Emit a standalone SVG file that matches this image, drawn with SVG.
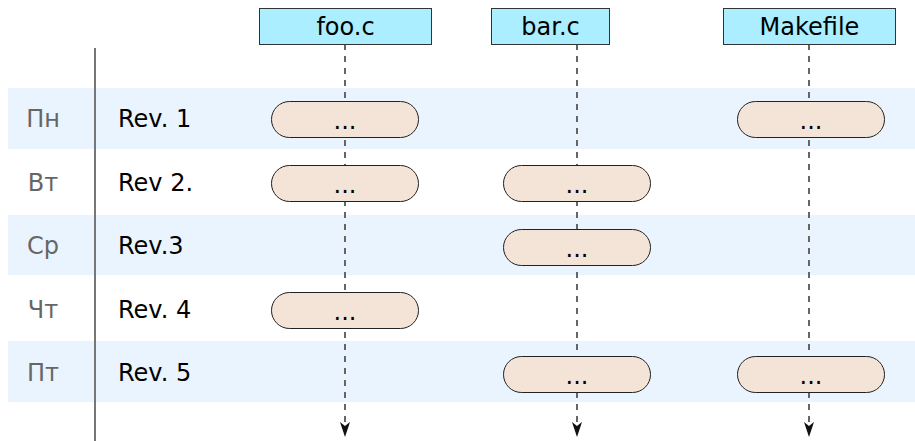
<svg xmlns="http://www.w3.org/2000/svg" width="915" height="441" viewBox="0 0 915 441">
<style>
text{font-family:"DejaVu Sans","Noto Sans",sans-serif;}
.band{fill:#eaf4fe;}
.hdr{fill:#aaeeff;stroke:#333;stroke-width:1;}
.hdrt{font-size:24px;fill:#000;text-anchor:middle;}
.pill{fill:#f4e3d7;stroke:#222;stroke-width:1;}
.pt{font-size:24px;fill:#000;text-anchor:middle;}
.day{font-size:24px;fill:#666;text-anchor:middle;}
.rev{font-size:24px;fill:#000;}
.life{stroke:#666;stroke-width:2;stroke-dasharray:6,6;fill:none;}
</style>
<defs>
<marker id="ah" markerWidth="16" markerHeight="10" refX="15" refY="5" orient="auto" markerUnits="userSpaceOnUse" viewBox="0 0 16 10">
<path d="M0,0 L4,5 L0,10 L15,5 Z" fill="#111"/>
</marker>
</defs>
<rect class="band" x="8" y="88" width="907" height="61"/>
<rect class="band" x="8" y="215" width="907" height="60"/>
<rect class="band" x="8" y="341" width="907" height="61"/>
<line x1="95" y1="48" x2="95" y2="441" stroke="#777" stroke-width="2"/>
<g id="days">
<text class="day" x="43" y="127">Пн</text>
<text class="day" x="43" y="190.5">Вт</text>
<text class="day" x="43" y="254">Ср</text>
<text class="day" x="43" y="317.5">Чт</text>
<text class="day" x="43" y="381">Пт</text>
</g>
<g id="revs">
<text class="rev" x="118" y="127">Rev. 1</text>
<text class="rev" x="118" y="190.5">Rev 2.</text>
<text class="rev" x="118" y="254">Rev.3</text>
<text class="rev" x="118" y="317.5">Rev. 4</text>
<text class="rev" x="118" y="381">Rev. 5</text>
</g>
<g id="connectors">
<line class="life" x1="345" y1="44" x2="345" y2="437" marker-end="url(#ah)"/>
<line class="life" x1="577" y1="44" x2="577" y2="437" marker-end="url(#ah)"/>
<line class="life" x1="809" y1="44" x2="809" y2="437" marker-end="url(#ah)"/>
</g>
<g id="h-foo"><rect class="hdr" x="259.5" y="8.5" width="172" height="36"/><text class="hdrt" x="345.5" y="35">foo.c</text></g>
<g id="h-bar"><rect class="hdr" x="491.5" y="8.5" width="118" height="36"/><text class="hdrt" x="550.5" y="35">bar.c</text></g>
<g id="h-make"><rect class="hdr" x="723.5" y="8.5" width="172" height="36"/><text class="hdrt" x="809.5" y="35">Makefile</text></g>
<g id="n-foo-1"><rect class="pill" x="271.5" y="101.5" width="147" height="36" rx="18"/><text class="pt" x="345" y="129">...</text></g>
<g id="n-make-1"><rect class="pill" x="737.5" y="101.5" width="147" height="36" rx="18"/><text class="pt" x="811" y="129">...</text></g>
<g id="n-foo-2"><rect class="pill" x="271.5" y="165.5" width="147" height="36" rx="18"/><text class="pt" x="345" y="193">...</text></g>
<g id="n-bar-2"><rect class="pill" x="503.5" y="165.5" width="147" height="36" rx="18"/><text class="pt" x="577" y="193">...</text></g>
<g id="n-bar-3"><rect class="pill" x="503.5" y="229.5" width="147" height="36" rx="18"/><text class="pt" x="577" y="257">...</text></g>
<g id="n-foo-4"><rect class="pill" x="271.5" y="292.5" width="147" height="36" rx="18"/><text class="pt" x="345" y="320">...</text></g>
<g id="n-bar-5"><rect class="pill" x="503.5" y="356.5" width="147" height="36" rx="18"/><text class="pt" x="577" y="384">...</text></g>
<g id="n-make-5"><rect class="pill" x="737.5" y="356.5" width="147" height="36" rx="18"/><text class="pt" x="811" y="384">...</text></g>
</svg>
